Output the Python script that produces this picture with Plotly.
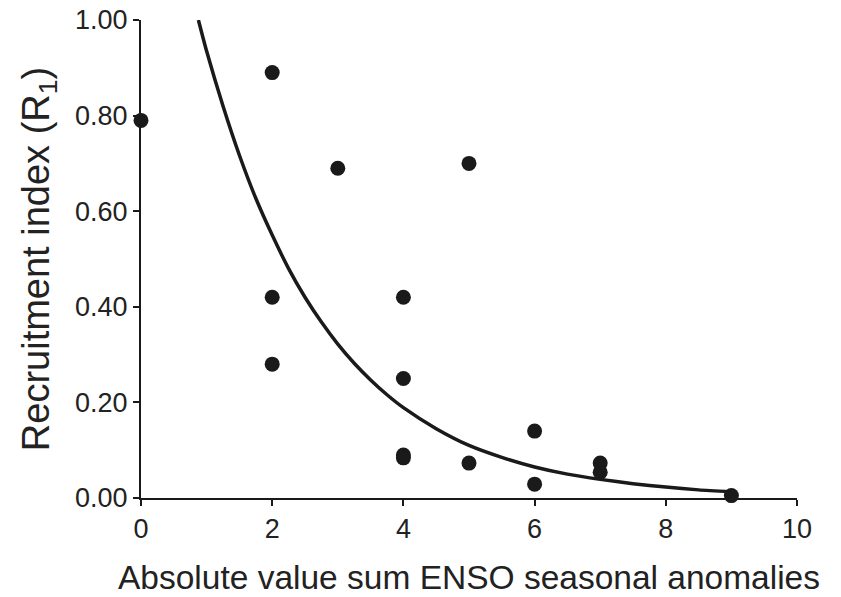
import plotly.graph_objects as go

enso_sum = [0, 2, 2, 2, 3, 4, 4, 4, 4, 5, 5, 6, 6, 7, 7, 9]
recruit = [0.79, 0.89, 0.42, 0.28, 0.69, 0.42, 0.25, 0.09, 0.084, 0.70, 0.073, 0.14, 0.029, 0.073, 0.054, 0.005]

# Fitted curve
curve_x = [0.875, 1.0, 1.25, 1.5, 1.75, 2.0, 2.25, 2.5, 2.75, 3.0, 3.25, 3.5, 3.75, 4.0,
           4.5, 5.0, 5.5, 6.0, 6.5, 7.0, 7.5, 8.0, 8.5, 9.0]
curve_y = [1.00, 0.935, 0.82, 0.717, 0.627, 0.55, 0.48, 0.42, 0.368, 0.322, 0.282, 0.247, 0.216, 0.189,
           0.145, 0.11, 0.085, 0.065, 0.05, 0.039, 0.03, 0.023, 0.017, 0.013]

x_ticks = [0, 2, 4, 6, 8, 10]
y_ticks = [0, 0.2, 0.4, 0.6, 0.8, 1.0]
y_tick_text = ["0.00", "0.20", "0.40", "0.60", "0.80", "1.00"]

font = "Liberation Sans, Arial, sans-serif"
ink = "#1a1a1a"

fig = go.Figure()
# white halo under markers (breaks the axis lines like the original)
fig.add_trace(go.Scatter(x=enso_sum, y=recruit, mode="markers",
                         marker=dict(size=26, color="white"),
                         cliponaxis=False, hoverinfo="skip", showlegend=False))
fig.add_trace(go.Scatter(x=curve_x, y=curve_y, mode="lines",
                         line=dict(color=ink, width=3.5, shape="spline", smoothing=0.6),
                         cliponaxis=False, showlegend=False))
fig.add_trace(go.Scatter(x=enso_sum, y=recruit, mode="markers",
                         marker=dict(size=15, color=ink),
                         cliponaxis=False, showlegend=False))

fig.update_layout(
    width=841, height=597,
    margin=dict(l=141, r=44, t=20, b=99),
    paper_bgcolor="white", plot_bgcolor="white",
    font=dict(family=font, color="#222"),
    showlegend=False,
)
fig.update_xaxes(
    range=[0, 10], tickvals=x_ticks, showgrid=False, zeroline=False,
    showline=True, linecolor=ink, linewidth=2,
    ticks="outside", ticklen=6, tickwidth=1.5, tickcolor=ink,
    tickfont=dict(size=27), automargin=False,
    title=dict(text="Absolute value sum ENSO seasonal anomalies",
               font=dict(size=33.5), standoff=22),
)
fig.update_yaxes(
    range=[0, 1], tickvals=y_ticks, ticktext=y_tick_text, showgrid=False, zeroline=False,
    showline=True, linecolor=ink, linewidth=2,
    ticks="outside", ticklen=6, tickwidth=1.5, tickcolor=ink,
    tickfont=dict(size=27), automargin=False,
    title=dict(text="Recruitment index (R<sub>1</sub>)", font=dict(size=38), standoff=14),
)

fig.write_html("out.html")
